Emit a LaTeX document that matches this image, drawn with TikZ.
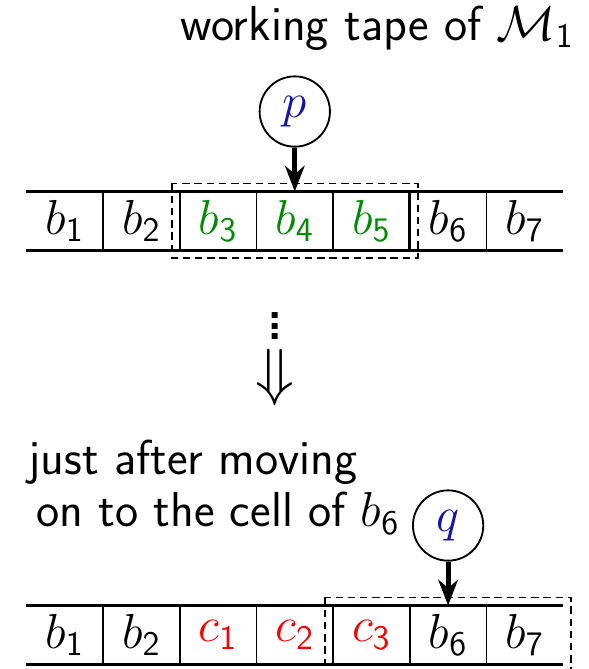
\RequirePackage{fix-cm}
\documentclass[tikz,border=0pt]{standalone}
\usetikzlibrary{positioning,arrows.meta}

\definecolor{headblue}{RGB}{20,20,170}
\definecolor{keepgreen}{RGB}{0,140,0}

\begin{document}
\begin{tikzpicture}[
  font=\sffamily\fontsize{18.5}{22}\selectfont,
  cell/.style    ={minimum width=10mm, minimum height=7.67mm, inner sep=0pt},
  tapeline/.style={line width=0.9pt},
  sep/.style     ={line width=0.55pt},
  thicksep/.style={line width=1pt},
  window/.style  ={line width=0.55pt, dash pattern=on 2.8pt off 1.8pt},
  state/.style   ={draw, circle, line width=0.7pt, minimum size=9.3mm, inner sep=0pt, text=headblue},
  head/.style    ={-{Stealth[length=3.4mm, width=2.6mm]}, line width=1.9pt},
  lbl/.style     ={inner sep=0pt},
]

\useasboundingbox (0,0) rectangle (7.778,-8.849);

\node[lbl, anchor=base east] (title) at (7.60,-0.53) {working tape of $\mathcal{M}_{\mathsf{1}}$};

% tape before the move
\node[cell] (up1) at (0.857,-2.923) {$b_{\mathsf{1}}$};
\node[cell, right=0pt of up1] (up2) {$b_{\mathsf{2}}$};
\node[cell, right=0pt of up2, text=keepgreen] (up3) {$b_{\mathsf{3}}$};
\node[cell, right=0pt of up3, text=keepgreen] (up4) {$b_{\mathsf{4}}$};
\node[cell, right=0pt of up4, text=keepgreen] (up5) {$b_{\mathsf{5}}$};
\node[cell, right=0pt of up5] (up6) {$b_{\mathsf{6}}$};
\node[cell, right=0pt of up6] (up7) {$b_{\mathsf{7}}$};

\draw[tapeline] (up1.north west) -- (up7.north east);
\draw[tapeline] (up1.south west) -- (up7.south east);
\draw[thicksep] (up2.north west) -- (up2.south west);
\draw[sep] (up3.north west) -- (up3.south west);
\draw[sep] (up4.north west) -- (up4.south west);
\draw[sep] (up5.north west) -- (up5.south west);
\draw[thicksep] (up6.north west) -- (up6.south west);
\draw[sep] (up7.north west) -- (up7.south west);
\draw[window] ([xshift=-1.06mm, yshift=1.06mm]up3.north west) rectangle ([xshift=1.06mm, yshift=-1mm]up5.south east);

\node[state, above=5.8mm of up4] (p) {$p$};
\draw[head] (p) -- (up4.north);

\node[lbl, font=\sffamily\fontsize{28}{28}\selectfont] (dots) at (3.637,-4.21) {$\vdots$};
\node[lbl, font=\fontsize{24}{24}\selectfont] (then) at (3.637,-4.99) {$\Downarrow$};

\node[lbl, anchor=base west] (moving) at (0.37,-6.28) {just after moving};
\node[lbl, anchor=base west] (cellof) at (0.47,-6.97) {on to the cell of $b_{\mathsf{6}}$};

% tape after the move
\node[cell] (lo1) at (0.857,-8.399) {$b_{\mathsf{1}}$};
\node[cell, right=0pt of lo1] (lo2) {$b_{\mathsf{2}}$};
\node[cell, right=0pt of lo2, text=red] (lo3) {$c_{\mathsf{1}}$};
\node[cell, right=0pt of lo3, text=red] (lo4) {$c_{\mathsf{2}}$};
\node[cell, right=0pt of lo4, text=red] (lo5) {$c_{\mathsf{3}}$};
\node[cell, right=0pt of lo5] (lo6) {$b_{\mathsf{6}}$};
\node[cell, right=0pt of lo6] (lo7) {$b_{\mathsf{7}}$};

\draw[tapeline] (lo1.north west) -- (lo7.north east);
\draw[tapeline] (lo1.south west) -- (lo7.south east);
\draw[thicksep] (lo2.north west) -- (lo2.south west);
\draw[sep] (lo3.north west) -- (lo3.south west);
\draw[sep] (lo4.north west) -- (lo4.south west);
\draw[sep] (lo5.north west) -- (lo5.south west);
\draw[sep] (lo6.north west) -- (lo6.south west);
\draw[sep] (lo7.north west) -- (lo7.south west);
\draw[window] ([xshift=-1.06mm, yshift=1.06mm]lo5.north west) rectangle ([xshift=1.06mm, yshift=-1mm]lo7.south east);

\node[state, above=5.8mm of lo6] (q) {$q$};
\draw[head] (q) -- (lo6.north);

\end{tikzpicture}
\end{document}
